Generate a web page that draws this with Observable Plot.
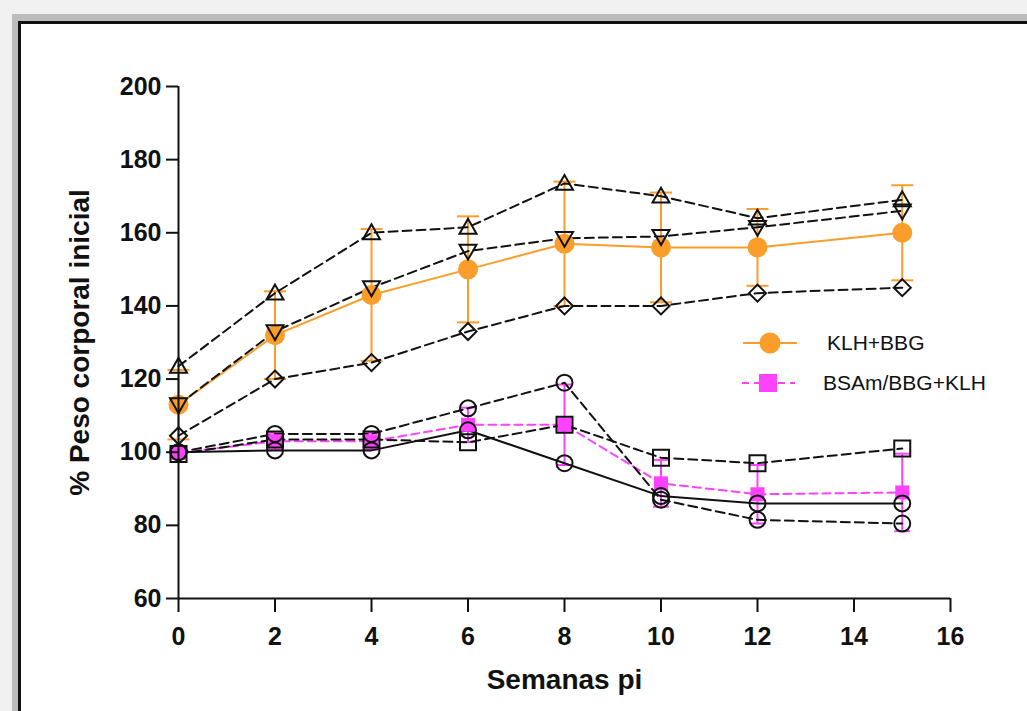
<!DOCTYPE html>
<html>
<head>
<meta charset="utf-8">
<script src="https://cdn.jsdelivr.net/npm/d3@7"></script>
<script src="https://cdn.jsdelivr.net/npm/@observablehq/plot@0.6"></script>
<style>
  html, body { margin: 0; padding: 0; }
  body { width: 1027px; height: 711px; overflow: hidden; position: relative; background: #f1f1f1; font-family: "Liberation Sans", Arial, sans-serif; }
  .band { position: absolute; left: 12px; top: 14px; width: 1100px; height: 800px; background: #bcbcbc; }
  .panel { position: absolute; left: 18px; top: 21px; width: 1100px; height: 800px; background: #fff; border-left: 3px solid #111; border-top: 3px solid #111; box-sizing: border-box; }
  #chart { position: absolute; left: 0; top: 0; }
  #legend { position: absolute; left: 740px; top: 330px; }
</style>
</head>
<body>
<div class="band"></div>
<div class="panel"></div>
<div id="chart"></div>
<div id="legend"></div>
<script>
// Weeks post-immunisation
const weeks = [0, 2, 4, 6, 8, 10, 12, 15];

// KLH+BBG group: mean ± SD and the three animals
const klhMean = [113, 132, 143, 150, 157, 156, 156, 160];
const klhSd = [9.5, 12, 18, 14.5, 17, 15, 10.5, 13];
const klhTriUp = [123.5, 143.5, 160, 161.5, 173.5, 170, 164, 169];
const klhTriDown = [113, 133, 145, 155, 158.5, 159, 161.5, 166];
const klhDiamond = [104.5, 120, 124.5, 133, 140, 140, 143.5, 145];

// BSAm/BBG+KLH group: mean ± SD and the three animals
const bsaMean = [99.8, 103, 103, 107.5, 107.5, 91.5, 88.5, 89];
const bsaSd = [0.5, 2.3, 2.3, 4.7, 11, 6.4, 8, 10.6];
const bsaCircle = [100, 105, 105, 112, 119, 87, 81.5, 80.5];
const bsaSquare = [99.5, 103.5, 103.5, 102.7, 107.5, 98.5, 97, 101];
const bsaSolid = [100, 100.5, 100.5, 106, 97, 88, 86, 86];

const yTicks = [60, 80, 100, 120, 140, 160, 180, 200];
const xTicks = [0, 2, 4, 6, 8, 10, 12, 14, 16];
const groupNames = ["KLH+BBG", "BSAm/BBG+KLH"];

const ORANGE = "#fb9d2a";
const PINK = "#ff42ff";
const INK = "#111";

const rows = weeks.map((w, i) => ({
  week: w,
  klhMean: klhMean[i], klhLo: klhMean[i] - klhSd[i], klhHi: klhMean[i] + klhSd[i],
  triUp: klhTriUp[i], triDown: klhTriDown[i], diamond: klhDiamond[i],
  bsaMean: bsaMean[i], bsaLo: bsaMean[i] - bsaSd[i], bsaHi: bsaMean[i] + bsaSd[i],
  circ: bsaCircle[i], sq: bsaSquare[i], solid: bsaSolid[i]
}));

// Custom marker shapes; r is the half-width in pixels
const shape = fn => ({draw(ctx, size) { fn(ctx, Math.sqrt(size / Math.PI)); }});
const capSym = shape((c, r) => { c.moveTo(-r, 0); c.lineTo(r, 0); });
const triUpSym = shape((c, r) => { c.moveTo(0, -r); c.lineTo(r, r * 0.75); c.lineTo(-r, r * 0.75); c.closePath(); });
const triDownSym = shape((c, r) => { c.moveTo(0, r); c.lineTo(r, -r * 0.75); c.lineTo(-r, -r * 0.75); c.closePath(); });
const diamondSym = shape((c, r) => { c.moveTo(0, -r); c.lineTo(r, 0); c.lineTo(0, r); c.lineTo(-r, 0); c.closePath(); });
const squareSym = shape((c, r) => { c.rect(-r, -r, 2 * r, 2 * r); });

const dash = "9,5";
const font = "Liberation Sans, Arial, sans-serif";

const chart = Plot.plot({
  width: 1027,
  height: 711,
  marginLeft: 178,
  marginRight: 77,
  marginTop: 86,
  marginBottom: 113,
  style: {background: "transparent", overflow: "visible", fontFamily: font},
  x: {domain: [0, 16]},
  y: {domain: [60, 200]},
  marks: [
    // error bars
    Plot.ruleX(rows, {x: "week", y1: "klhLo", y2: "klhHi", stroke: ORANGE, strokeWidth: 2}),
    Plot.dot(rows, {x: "week", y: "klhLo", symbol: capSym, r: 11, stroke: ORANGE, strokeWidth: 2}),
    Plot.dot(rows, {x: "week", y: "klhHi", symbol: capSym, r: 11, stroke: ORANGE, strokeWidth: 2}),
    Plot.ruleX(rows, {x: "week", y1: "bsaLo", y2: "bsaHi", stroke: PINK, strokeWidth: 2}),
    Plot.dot(rows, {x: "week", y: "bsaLo", symbol: capSym, r: 8, stroke: PINK, strokeWidth: 2}),
    Plot.dot(rows, {x: "week", y: "bsaHi", symbol: capSym, r: 8, stroke: PINK, strokeWidth: 2}),
    // group means
    Plot.line(rows, {x: "week", y: "bsaMean", stroke: PINK, strokeWidth: 2, strokeDasharray: "8,5"}),
    Plot.line(rows, {x: "week", y: "klhMean", stroke: ORANGE, strokeWidth: 2}),
    // individual animals
    Plot.line(rows, {x: "week", y: "triUp", stroke: INK, strokeWidth: 2, strokeDasharray: dash}),
    Plot.line(rows, {x: "week", y: "triDown", stroke: INK, strokeWidth: 2, strokeDasharray: dash}),
    Plot.line(rows, {x: "week", y: "diamond", stroke: INK, strokeWidth: 2, strokeDasharray: dash}),
    Plot.line(rows, {x: "week", y: "circ", stroke: INK, strokeWidth: 2, strokeDasharray: dash}),
    Plot.line(rows, {x: "week", y: "sq", stroke: INK, strokeWidth: 2, strokeDasharray: dash}),
    Plot.line(rows, {x: "week", y: "solid", stroke: INK, strokeWidth: 2}),
    Plot.dot(rows, {x: "week", y: "klhMean", symbol: "circle", r: 10, fill: ORANGE}),
    Plot.dot(rows, {x: "week", y: "bsaMean", symbol: squareSym, r: 7, fill: PINK}),
    Plot.dot(rows, {x: "week", y: "triUp", symbol: triUpSym, r: 8.5, stroke: INK, strokeWidth: 2, fill: "none"}),
    Plot.dot(rows, {x: "week", y: "triDown", symbol: triDownSym, r: 8.5, stroke: INK, strokeWidth: 2, fill: "none"}),
    Plot.dot(rows, {x: "week", y: "diamond", symbol: diamondSym, r: 8.5, stroke: INK, strokeWidth: 2, fill: "none"}),
    Plot.dot(rows, {x: "week", y: "circ", symbol: "circle", r: 8, stroke: INK, strokeWidth: 2, fill: "none"}),
    Plot.dot(rows, {x: "week", y: "sq", symbol: squareSym, r: 8, stroke: INK, strokeWidth: 2, fill: "none"}),
    Plot.dot(rows, {x: "week", y: "solid", symbol: "circle", r: 8, stroke: INK, strokeWidth: 2, fill: "none"}),
    // axes
    Plot.ruleX([0], {stroke: INK, strokeWidth: 2}),
    Plot.ruleY([60], {stroke: INK, strokeWidth: 2}),
    Plot.axisY({ticks: yTicks, tickSize: 12, tickPadding: 5, strokeWidth: 2, stroke: INK, fill: INK,
      fontSize: 25, fontWeight: "bold", label: null}),
    Plot.axisX({ticks: xTicks, tickSize: 14, tickPadding: 15, strokeWidth: 2, stroke: INK, fill: INK,
      fontSize: 25, fontWeight: "bold", label: null}),
    Plot.text(["Semanas pi"], {frameAnchor: "bottom", dy: 90, lineAnchor: "bottom", fontSize: 28,
      fontWeight: "bold", fill: INK}),
    Plot.text(["% Peso corporal inicial"], {frameAnchor: "left", dx: -98, rotate: -90, textAnchor: "middle",
      lineAnchor: "middle", fontSize: 28, fontWeight: "bold", fill: INK})
  ]
});
document.getElementById("chart").append(chart);

// Legend
const lg = d3.select("#legend").append("svg").attr("width", 280).attr("height", 70)
  .style("font-family", font);
const item1 = lg.append("g").attr("transform", "translate(0,13)");
item1.append("line").attr("x1", 3).attr("x2", 57).attr("stroke", ORANGE).attr("stroke-width", 2);
item1.append("circle").attr("cx", 30).attr("r", 10.5).attr("fill", ORANGE);
item1.append("text").attr("x", 87).attr("dy", "0.35em").attr("font-size", 21).attr("fill", INK).text(groupNames[0]);
const item2 = lg.append("g").attr("transform", "translate(0,53)");
item2.append("line").attr("x1", 2).attr("x2", 55).attr("stroke", PINK).attr("stroke-width", 2).attr("stroke-dasharray", "7,5");
item2.append("rect").attr("x", 19).attr("y", -9).attr("width", 18).attr("height", 18).attr("fill", PINK);
item2.append("text").attr("x", 83).attr("dy", "0.35em").attr("font-size", 21).attr("fill", INK).text(groupNames[1]);
</script>
</body>
</html>
